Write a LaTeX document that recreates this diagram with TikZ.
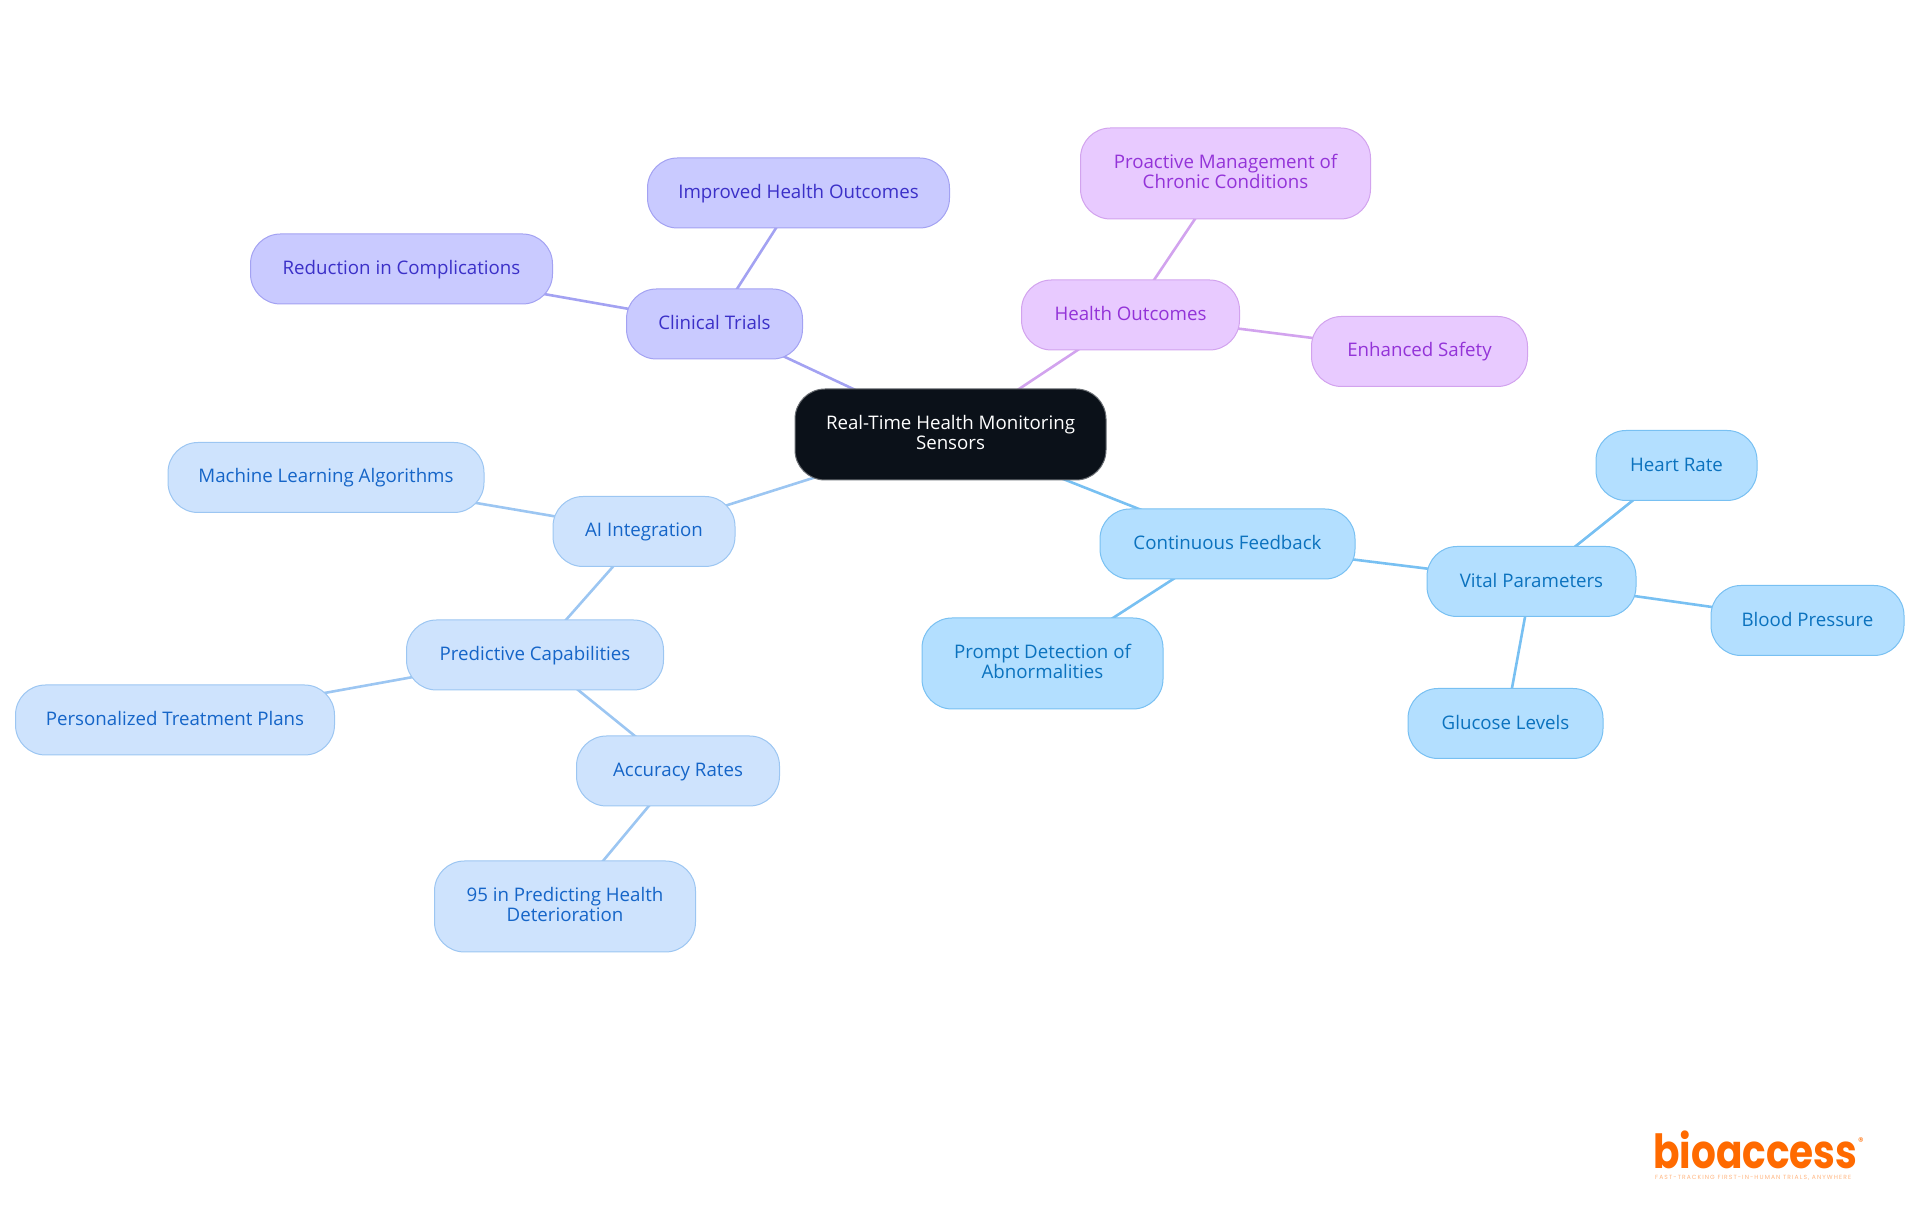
\documentclass[tikz,border=0pt]{standalone}
\usepackage{fontspec}
\setmainfont{Open Sans}
\newfontfamily\logofont{Poppins}
\newfontfamily\tagfont[LetterSpace=18]{Poppins}
\usetikzlibrary{positioning,backgrounds}
\definecolor{rootfill}{HTML}{0B1119}
\definecolor{rootline}{HTML}{6A6E73}
\definecolor{trialfill}{HTML}{C9CAFF}
\definecolor{trialline}{HTML}{A3A2F2}
\definecolor{trialtext}{HTML}{3B30C8}
\definecolor{outcomefill}{HTML}{E8CAFF}
\definecolor{outcomeline}{HTML}{D2A3EE}
\definecolor{outcometext}{HTML}{9333D8}
\definecolor{aifill}{HTML}{CEE3FD}
\definecolor{ailine}{HTML}{9CC6F2}
\definecolor{aitext}{HTML}{1565C8}
\definecolor{feedfill}{HTML}{B3DFFF}
\definecolor{feedline}{HTML}{78C0F2}
\definecolor{feedtext}{HTML}{0B72BE}
\definecolor{logoorange}{HTML}{FF6A00}
\newcommand{\pillstrut}{\rule[-4pt]{0pt}{19.4pt}}
\tikzset{pill/.style={draw,rounded corners=30pt,line width=1pt,outer sep=0pt,inner sep=0pt,minimum height=70pt,align=center,font=\fontsize{18.7}{20.7}\selectfont,execute at begin node=\pillstrut,execute at end node=\pillstrut},
tall/.style={minimum height=91pt},
rootnode/.style={pill,fill=rootfill,draw=rootline,text=white},
trialnode/.style={pill,fill=trialfill,draw=trialline,text=trialtext},
outcomenode/.style={pill,fill=outcomefill,draw=outcomeline,text=outcometext},
ainode/.style={pill,fill=aifill,draw=ailine,text=aitext},
feednode/.style={pill,fill=feedfill,draw=feedline,text=feedtext},
link/.style={line width=2.6pt}}

\begin{document}
\begin{tikzpicture}
\useasboundingbox (0pt,0pt) rectangle (1920pt,1215pt);
\node[rootnode,tall,minimum width=311pt] (root) at (950.5pt,780.5pt) {Real-Time Health Monitoring\\Sensors};
\node[trialnode,minimum width=176pt,above=30pt of root,xshift=-236pt] (trials) {Clinical Trials};
\node[trialnode,minimum width=302pt,above=61pt of trials,xshift=84pt] (improved) {Improved Health Outcomes};
\node[trialnode,minimum width=302pt,left=74pt of trials,yshift=55pt] (reduction) {Reduction in Complications};
\node[outcomenode,minimum width=218pt,above=39pt of root,xshift=180pt] (health) {Health Outcomes};
\node[outcomenode,tall,minimum width=290pt,above=61pt of health,xshift=95pt] (proactive) {Proactive Management of\\Chronic Conditions};
\node[outcomenode,minimum width=216pt,right=72pt of health,yshift=-36.5pt] (safety) {Enhanced Safety};
\node[feednode,minimum width=255pt,below=29pt of root,xshift=277pt] (feedback) {Continuous Feedback};
\node[feednode,tall,minimum width=241pt,below=39pt of feedback,xshift=-185pt] (prompt) {Prompt Detection of\\Abnormalities};
\node[feednode,minimum width=209pt,right=72pt of feedback,yshift=-37.5pt] (vital) {Vital Parameters};
\node[feednode,minimum width=161pt,above=46pt of vital,xshift=145pt] (heart) {Heart Rate};
\node[feednode,minimum width=193pt,right=75pt of vital,yshift=-39pt] (blood) {Blood Pressure};
\node[feednode,minimum width=195pt,below=72pt of vital,xshift=-26pt] (glucose) {Glucose Levels};
\node[ainode,minimum width=182pt,below=16.5pt of root,xshift=-306.5pt] (ai) {AI Integration};
\node[ainode,minimum width=316pt,left=69pt of ai,yshift=54pt] (learning) {Machine Learning Algorithms};
\node[ainode,minimum width=257pt,below=53.5pt of ai,xshift=-109pt] (predictive) {Predictive Capabilities};
\node[ainode,minimum width=319pt,left=72pt of predictive,yshift=-65pt] (plans) {Personalized Treatment Plans};
\node[ainode,minimum width=203pt,below=46pt of predictive,xshift=143pt] (accuracy) {Accuracy Rates};
\node[ainode,tall,minimum width=261pt,below=55pt of accuracy,xshift=-113pt] (deterioration) {95 in Predicting Health\\Deterioration};
% links run under the nodes
\begin{scope}[on background layer]
\path[link,draw=trialline] (root.center) edge (trials.center) (trials.center) edge (improved.center) (trials.center) edge (reduction.center);
\path[link,draw=outcomeline] (root.center) edge (health.center) (health.center) edge (proactive.center) (health.center) edge (safety.center);
\path[link,draw=feedline] (root.center) edge (feedback.center) (feedback.center) edge (prompt.center) (feedback.center) edge (vital.center);
\path[link,draw=feedline] (vital.center) edge (heart.center) (vital.center) edge (blood.center) (vital.center) edge (glucose.center);
\path[link,draw=ailine] (root.center) edge (ai.center) (ai.center) edge (learning.center) (ai.center) edge (predictive.center);
\path[link,draw=ailine] (predictive.center) edge (plans.center) (predictive.center) edge (accuracy.center) (accuracy.center) edge (deterioration.center);
\end{scope}
% logo
\node[text=logoorange,font=\logofont\bfseries\fontsize{47}{47}\selectfont,anchor=base west,inner sep=0pt,xscale=0.83] (logo) at (1653pt,46pt) {bioaccess};
\node[text=logoorange,font=\logofont\fontsize{11}{11}\selectfont,inner sep=0pt] (regmark) at (1861pt,73pt) {®};
\node[text=logoorange!50,font=\tagfont\fontsize{6}{6}\selectfont,anchor=base west,inner sep=0pt] (tagline) at (1655pt,35pt) {FAST-TRACKING FIRST-IN-HUMAN TRIALS, ANYWHERE};
\end{tikzpicture}
\end{document}
